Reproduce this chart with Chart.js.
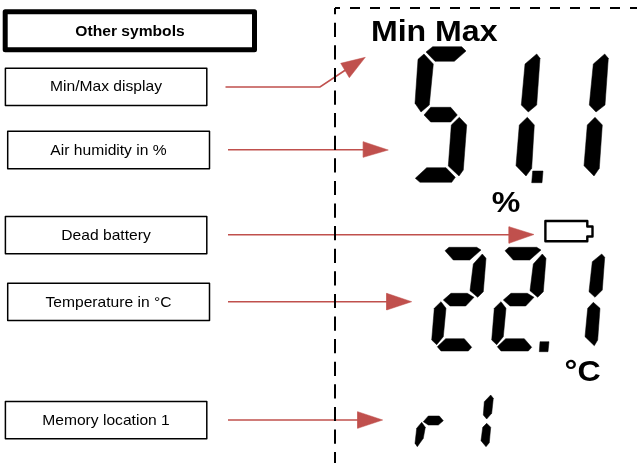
<!DOCTYPE html>
<html>
<head>
<meta charset="utf-8">
<style>
  html, body { margin: 0; padding: 0; background: #fff; }
  canvas { display: block; }
</style>
<script src="https://cdn.jsdelivr.net/npm/chart.js@4"></script>
</head>
<body>
<canvas id="myChart" width="637" height="463"></canvas>
<script>
const labelTexts = ["Other symbols", "Min/Max display", "Air humidity in %", "Dead battery", "Temperature in °C", "Memory location 1"];
const labelX = [130, 106, 108.5, 106, 108.5, 106];
const labelY = [35.6, 90.6, 155, 240, 306.6, 425];

const displayTexts = ["Min Max", "%", "°C"];
const displayX = [434.2, 506, 582.6];
const displayY = [40.7, 212, 381];

const headerBox = [[5.2, 11.8], [254.5, 11.8], [254.5, 49.8], [5.2, 49.8]];
const labelBoxes = [
  [[5.4, 68.3], [206.8, 68.3], [206.8, 105.5], [5.4, 105.5]],
  [[7.7, 131.3], [209.5, 131.3], [209.5, 168.7], [7.7, 168.7]],
  [[5.4, 216.6], [206.8, 216.6], [206.8, 253.7], [5.4, 253.7]],
  [[7.7, 283.3], [209.5, 283.3], [209.5, 320.4], [7.7, 320.4]],
  [[5.4, 401.6], [206.8, 401.6], [206.8, 438.7], [5.4, 438.7]],
];

const frameTop = [[335, 8], [637, 8]];
const frameLeft = [[335, 8], [335, 463]];

const arrowLines = [
  [[225.5, 87], [320, 87], [350, 67]],
  [[228, 149.8], [366, 149.8]],
  [[228, 234.7], [512, 234.7]],
  [[228, 301.7], [390, 301.7]],
  [[228, 420], [360, 420]],
];
const arrowHeads = [
  [[365.3, 57.3], [340.7, 63.3], [349.3, 77.7]],
  [[388.3, 150], [363.3, 141.7], [363.3, 157.3]],
  [[534, 234.5], [509, 226.7], [509, 243.3]],
  [[411.7, 301.7], [386.7, 293.3], [386.7, 310]],
  [[382.7, 420], [357.7, 411.7], [357.7, 428.3]],
];

const battery = [[545.4, 221], [587.3, 221], [587.3, 226.5], [592.5, 226.5], [592.5, 236.5], [587.3, 236.5], [587.3, 241.3], [545.4, 241.3]];

const humiditySegments = [
  [[426, 52], [432.7, 46.7], [461.7, 46.7], [466, 51], [454.3, 61.3], [435, 61.3]],
  [[424, 54], [418, 59.3], [415, 103.3], [421, 112], [429.3, 105], [433.3, 64]],
  [[424, 115], [430.7, 107.3], [450.7, 107.3], [457.3, 115], [450.7, 122], [430.7, 122]],
  [[459.3, 117.3], [466.7, 125], [463.3, 170], [459, 176], [448.3, 166], [451.3, 125]],
  [[415.3, 178.3], [426.7, 167.7], [446, 167.7], [455.3, 177.3], [451.7, 182.3], [420, 182.3]],
  [[536.7, 54], [540, 58.3], [536.7, 105], [528.3, 112], [521.3, 105], [525, 64]],
  [[527.3, 117.3], [534.3, 125], [531.7, 168.3], [526, 176], [516, 165.7], [519.3, 125]],
  [[532.7, 171], [543, 171], [542, 182.7], [531.7, 182.7]],
  [[604.7, 54], [608.3, 58.3], [605, 105], [596, 112], [589.3, 105], [593.3, 64]],
  [[595, 117.3], [602.3, 125], [599.3, 168.3], [594, 176], [584, 165.7], [587.3, 125]],
];

const temperatureSegments = [
  [[445, 250.7], [449, 247.3], [476.7, 247.3], [481, 250], [469.7, 260], [453.3, 260]],
  [[482.3, 254], [486, 258.3], [483.3, 291.7], [477.7, 297.3], [470, 290.7], [473.3, 264]],
  [[443.3, 300], [451, 293.3], [467.3, 293.3], [474, 297.3], [465.7, 306], [450, 306]],
  [[441, 301.7], [446, 308.3], [443.3, 336.7], [436.7, 344.7], [431.7, 340], [434.3, 308.3]],
  [[437.3, 346.7], [445.7, 338.7], [464.3, 338.7], [471.7, 347.3], [468.3, 351], [441, 351]],
  [[505, 250.7], [509, 247.3], [536.7, 247.3], [541, 250], [529.7, 260], [513.3, 260]],
  [[542.3, 254], [546, 258.3], [543.3, 291.7], [537.7, 297.3], [530, 290.7], [533.3, 264]],
  [[503.3, 300], [511, 293.3], [527.3, 293.3], [534, 297.3], [525.7, 306], [510, 306]],
  [[501, 301.7], [506, 308.3], [503.3, 336.7], [496.7, 344.7], [491.7, 340], [494.3, 308.3]],
  [[497.3, 346.7], [505.7, 338.7], [524.3, 338.7], [531.7, 347.3], [528.3, 351], [501, 351]],
  [[540, 341.7], [549, 341.7], [548, 351.7], [539.3, 351.7]],
  [[601.7, 254], [604.7, 257.3], [602.3, 290], [595, 297.3], [589, 291.7], [592.3, 261.7]],
  [[593.3, 302.3], [600, 308.3], [597.7, 340], [594.3, 345.7], [585, 336.7], [587.7, 308.3]],
];

const memorySegments = [
  [[423.3, 421.7], [428.3, 416], [439.3, 416], [443.3, 420.7], [438.3, 425], [428.3, 425]],
  [[421.7, 422.3], [425.3, 427.3], [423.3, 438.3], [417.3, 446.7], [415, 443.3], [416.7, 428.3]],
  [[490.7, 395], [493.3, 398.3], [491.7, 413.3], [486.7, 419], [483.3, 415], [484.3, 401.7]],
  [[486.7, 423.3], [490.7, 427.3], [489.3, 442.7], [486, 446.7], [481, 440.7], [482.7, 427.3]],
];

const RED = "#c0504d";

const toPoints = (pts) => pts.map(([x, y]) => ({ x, y }));

// open line
const line = (pts, color, width, dash, dashOffset) => ({
  data: toPoints(pts),
  borderColor: color,
  borderWidth: width,
  borderDash: dash || [],
  borderDashOffset: dashOffset || 0,
  fill: false,
});

// closed outline, the second point is repeated so the last corner gets a proper join
const outline = (pts, width) => ({
  data: toPoints([...pts, pts[0], pts[1]]),
  borderColor: "#000",
  borderWidth: width,
  borderJoinStyle: "round",
  fill: false,
});

// filled polygon
const shape = (pts, color) => ({
  data: toPoints([...pts, pts[0]]),
  borderColor: color,
  borderWidth: 0.5,
  backgroundColor: color,
  fill: "shape",
});

const data = {
  datasets: [
    line(frameTop, "#000", 2, [10, 10], 5),
    line(frameLeft, "#000", 2, [14.2, 8.4], 7.9),
    outline(headerBox, 5),
    ...labelBoxes.map((b) => outline(b, 1.5)),
    ...arrowLines.map((l) => line(l, RED, 1.6)),
    ...arrowHeads.map((h) => shape(h, RED)),
    outline(battery, 2.4),
    ...humiditySegments.map((s) => shape(s, "#000")),
    ...temperatureSegments.map((s) => shape(s, "#000")),
    ...memorySegments.map((s) => shape(s, "#000")),
  ],
};

// the source picture is a little wider than tall, so the text is too
const TEXT_STRETCH = 1.07;

const textPlugin = {
  id: "diagramText",
  afterDatasetsDraw(chart) {
    const { ctx, scales } = chart;
    const put = (text, x, y, font) => {
      ctx.save();
      ctx.translate(scales.x.getPixelForValue(x), scales.y.getPixelForValue(y));
      ctx.scale(TEXT_STRETCH, 1);
      ctx.font = font;
      ctx.fillStyle = "#000";
      ctx.textAlign = "center";
      ctx.textBaseline = "alphabetic";
      ctx.fillText(text, 0, 0);
      ctx.restore();
    };
    labelTexts.forEach((t, i) => {
      const weight = i === 0 ? "bold " : "";
      put(t, labelX[i], labelY[i], weight + "14.6px 'Liberation Sans'");
    });
    displayTexts.forEach((t, i) => {
      put(t, displayX[i], displayY[i], "bold 30px 'Liberation Sans'");
    });
  },
};

// config
const config = {
  type: "scatter",
  data,
  plugins: [textPlugin],
  options: {
    responsive: false,
    animation: false,
    showLine: true,
    layout: { padding: 0 },
    elements: {
      point: { radius: 0, hoverRadius: 0 },
      line: { tension: 0 },
    },
    scales: {
      x: { type: "linear", min: 0, max: 637, display: false },
      y: { type: "linear", min: 0, max: 463, reverse: true, display: false },
    },
    plugins: {
      legend: { display: false },
      title: { display: false },
      tooltip: { enabled: false },
    },
  },
};

const myChart = new Chart(document.getElementById("myChart"), config);
</script>
</body>
</html>
